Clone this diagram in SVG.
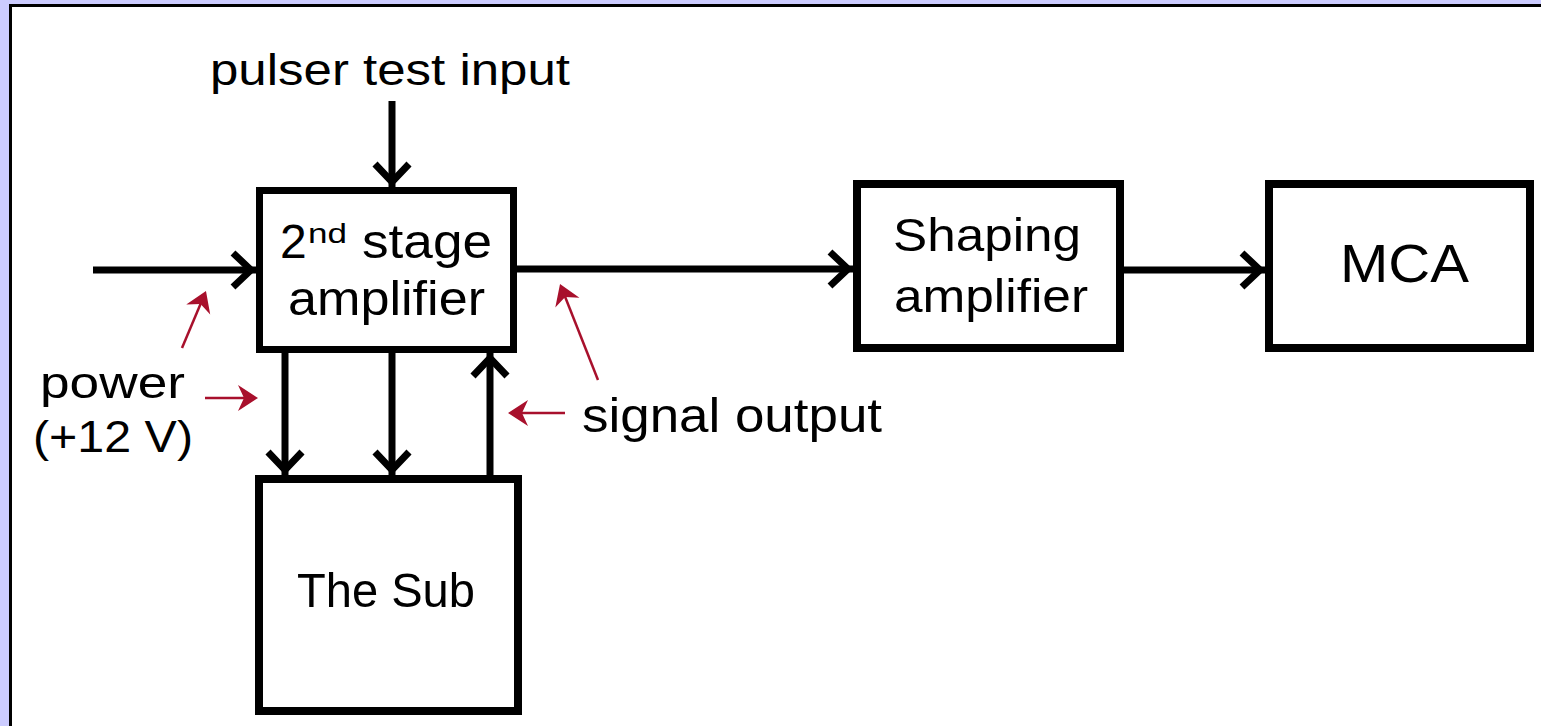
<svg xmlns="http://www.w3.org/2000/svg" width="1541" height="726" viewBox="0 0 1541 726">
<defs>
<style>
.box{fill:#fff;stroke:#000;}
.lbl{font-family:"Liberation Sans",Arial,sans-serif;fill:#000;}
.wire{stroke:#000;stroke-width:7;fill:none;}
.red{stroke:#a8102c;stroke-width:2.5;fill:none;}
</style>
<marker id="chev" markerUnits="userSpaceOnUse" viewBox="-30 -25 35 50" markerWidth="35" markerHeight="50" refX="0" refY="0" orient="auto" overflow="visible">
<path d="M-23,-17 L-5,0 L-23,17" fill="none" stroke="#000" stroke-width="7" stroke-linejoin="miter"/>
</marker>
<marker id="redhead" markerUnits="userSpaceOnUse" viewBox="-12 -14 24 28" markerWidth="24" markerHeight="28" refX="0" refY="0" orient="auto" overflow="visible">
<path d="M10,0 L-10,-13 L-4,0 L-10,13 Z" fill="#a8102c"/>
</marker>
</defs>
<rect x="0" y="0" width="1541" height="726" fill="#ccccff"/>
<rect x="10.5" y="5.5" width="1545" height="735" fill="#fff" stroke="#000" stroke-width="3"/>

<g id="connectors">
<line class="wire" x1="93" y1="270" x2="256" y2="270" marker-end="url(#chev)"/>
<line class="wire" x1="392" y1="101" x2="392" y2="187" marker-end="url(#chev)"/>
<line class="wire" x1="517" y1="269" x2="853" y2="269" marker-end="url(#chev)"/>
<line class="wire" x1="1124" y1="270" x2="1265" y2="270" marker-end="url(#chev)"/>
<line class="wire" x1="285" y1="353" x2="285" y2="475" marker-end="url(#chev)"/>
<line class="wire" x1="392" y1="353" x2="392" y2="475" marker-end="url(#chev)"/>
<line class="wire" x1="490" y1="476" x2="490" y2="353" marker-end="url(#chev)"/>
</g>

<g id="annotations">
<line class="red" x1="182" y1="348" x2="202.1" y2="300.2" marker-end="url(#redhead)"/>
<line class="red" x1="205" y1="398" x2="248" y2="398" marker-end="url(#redhead)"/>
<line class="red" x1="598" y1="380" x2="563.7" y2="293.3" marker-end="url(#redhead)"/>
<line class="red" x1="565" y1="413" x2="518" y2="413" marker-end="url(#redhead)"/>
<text class="lbl" x="210" y="85" font-size="45" textLength="360" lengthAdjust="spacingAndGlyphs">pulser test input</text>
<text class="lbl" x="40" y="398" font-size="45" textLength="145" lengthAdjust="spacingAndGlyphs">power</text>
<text class="lbl" x="33" y="452" font-size="45" textLength="160" lengthAdjust="spacingAndGlyphs">(+12 V)</text>
<text class="lbl" x="582" y="432" font-size="48" textLength="300" lengthAdjust="spacingAndGlyphs">signal output</text>
</g>

<g id="node-2nd-stage">
<rect class="box" x="259.5" y="190.5" width="254" height="159" stroke-width="7"/>
<text class="lbl" x="280" y="258" font-size="48">2</text>
<text class="lbl" x="308" y="243" font-size="28" textLength="39" lengthAdjust="spacingAndGlyphs">nd</text>
<text class="lbl" x="362" y="258" font-size="48" textLength="130" lengthAdjust="spacingAndGlyphs">stage</text>
<text class="lbl" x="288" y="315" font-size="48" textLength="197" lengthAdjust="spacingAndGlyphs">amplifier</text>
</g>

<g id="node-shaping">
<rect class="box" x="857" y="184" width="263" height="164" stroke-width="8"/>
<text class="lbl" x="893" y="251" font-size="46" textLength="188" lengthAdjust="spacingAndGlyphs">Shaping</text>
<text class="lbl" x="894" y="312" font-size="46" textLength="194" lengthAdjust="spacingAndGlyphs">amplifier</text>
</g>

<g id="node-mca">
<rect class="box" x="1269" y="184" width="261" height="164" stroke-width="8"/>
<text class="lbl" x="1340" y="282" font-size="53" textLength="129" lengthAdjust="spacingAndGlyphs">MCA</text>
</g>

<g id="node-sub">
<rect class="box" x="259" y="479" width="259" height="232" stroke-width="8"/>
<text class="lbl" x="297" y="607" font-size="49" textLength="178" lengthAdjust="spacingAndGlyphs">The Sub</text>
</g>
</svg>
